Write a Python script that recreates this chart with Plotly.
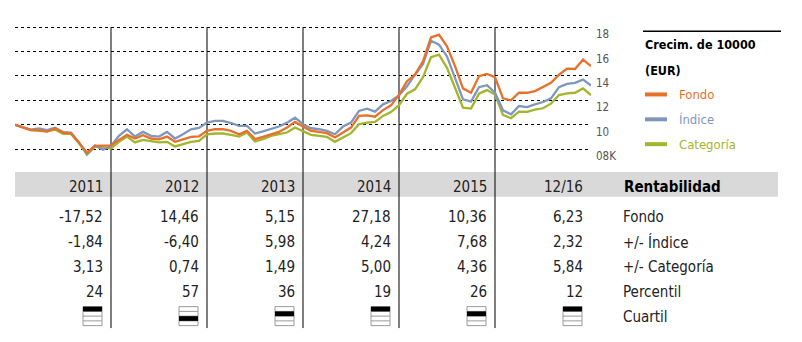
import plotly.graph_objects as go

# ---------------- data ----------------
months = list(range(73))  # month index, 0 = start of 2011, 72 = end of 2016

fondo = [10.0, 9.77, 9.55, 9.55, 9.44, 9.69, 9.36, 9.3, 8.55, 7.73, 8.27, 8.27, 8.3,
         8.76, 9.17, 8.87, 9.14, 8.87, 8.8, 9.03, 8.6, 8.8, 9.0, 9.05, 9.5,
         9.63, 9.63, 9.5, 9.22, 9.5, 8.82, 9.0, 9.22, 9.41, 9.77, 10.23, 9.85,
         9.5, 9.41, 9.31, 8.95, 9.36, 9.77, 10.72, 10.77, 10.66, 11.2, 11.59, 12.45,
         13.57, 14.1, 15.2, 17.15, 17.38, 16.43, 14.8, 12.98, 12.62, 13.98, 14.17, 13.9,
         12.16, 12.0, 12.62, 12.62, 12.76, 13.08, 13.43, 14.1, 14.6, 14.57, 15.33, 14.8]

indice = [10.0, 9.8, 9.6, 9.7, 9.55, 9.75, 9.4, 9.35, 8.55, 7.6, 8.3, 7.95, 8.25,
          9.09, 9.63, 9.03, 9.41, 9.09, 9.03, 9.41, 8.87, 9.22, 9.63, 9.74, 10.17,
          10.31, 10.31, 10.14, 9.9, 9.9, 9.28, 9.45, 9.63, 9.85, 10.17, 10.58, 10.04,
          9.71, 9.63, 9.5, 9.22, 9.85, 10.17, 11.13, 11.31, 11.07, 11.67, 11.94, 12.4,
          13.16, 14.1, 14.99, 16.88, 16.56, 15.6, 13.84, 12.08, 11.89, 13.08, 13.24, 12.62,
          11.18, 10.86, 11.53, 11.45, 11.67, 11.86, 12.16, 13.08, 13.35, 13.43, 13.7, 13.22]

categoria = [10.0, 9.75, 9.55, 9.5, 9.45, 9.6, 9.25, 9.25, 8.5, 7.55, 8.2, 8.15, 8.05,
             8.6, 9.03, 8.55, 8.76, 8.66, 8.55, 8.6, 8.22, 8.41, 8.6, 8.68, 9.22,
             9.28, 9.28, 9.17, 9.03, 9.36, 8.63, 8.82, 9.09, 9.22, 9.36, 9.77, 9.44,
             9.17, 9.09, 9.0, 8.6, 8.95, 9.31, 10.04, 10.17, 10.23, 10.72, 11.04, 11.6,
             12.54, 12.9, 13.9, 15.53, 15.74, 14.66, 13.03, 11.4, 11.32, 12.54, 12.84, 12.48,
             10.8, 10.53, 11.07, 11.05, 11.24, 11.35, 11.73, 12.43, 12.57, 12.62, 12.98, 12.43]

y_tickvals = [8, 10, 12, 14, 16, 18]
y_ticktext = ["08K", "10", "12", "14", "16", "18"]

years = ["2011", "2012", "2013", "2014", "2015", "12/16"]
year_end_month = [12, 24, 36, 48, 60, 72]
ret_fondo = [-17.52, 14.46, 5.15, 27.18, 10.36, 6.23]
ret_indice = [-1.84, -6.40, 5.98, 4.24, 7.68, 2.32]
ret_categoria = [3.13, 0.74, 1.49, 5.00, 4.36, 5.84]
percentil = [24, 57, 36, 19, 26, 12]
cuartil = [1, 3, 2, 1, 2, 1]

row_labels = ["Fondo", "+/- Índice", "+/- Categoría", "Percentil", "Cuartil"]
series_names = ["Fondo", "Índice", "Categoría"]

# ---------------- style ----------------
W, H = 802, 342
FONT = "Liberation Sans Narrow, Arial Narrow, DejaVu Sans Condensed, sans-serif"
COL = {"Fondo": "#E8702A", "Índice": "#7F97BC", "Categoría": "#A3B52B"}
TXT = "#222222"
TS = 15  # table font size
YS = -2  # vertical nudge of table text (px)


def px(x):
    return x / W


def py(y):
    return 1 - y / H


# plot geometry (pixels)
X0, X1 = 15, 591
Y18, Y8 = 27.3, 150.0
k = (Y8 - Y18) / 10.0
YMIN, YMAX = 7.0, 18.5
dom_bottom = Y8 + (8 - YMIN) * k
dom_top = Y18 - (YMAX - 18) * k

fig = go.Figure()
for name, vals in zip(series_names[::-1], [categoria, indice, fondo]):
    fig.add_trace(go.Scatter(x=months, y=vals, mode="lines", name=name,
                             line=dict(color=COL[name], width=2.3),
                             showlegend=False, hoverinfo="skip"))

shapes = []
annotations = []

# grey header band
shapes.append(dict(type="rect", xref="paper", yref="paper",
                   x0=px(15), x1=px(778), y0=py(198), y1=py(173),
                   fillcolor="#D9D9D9", line=dict(width=0), layer="below"))

# vertical year separators
for m in year_end_month[:-1]:
    shapes.append(dict(type="line", xref="x", yref="paper", x0=m, x1=m,
                       y0=py(330), y1=py(Y18), line=dict(color="black", width=1),
                       layer="below"))

# table rows
row_y = [216.7, 241.7, 266.7, 291.7]


def fmt(v):
    return f"{v:.2f}".replace(".", ",")


for i, yr in enumerate(years):
    m = year_end_month[i]
    annotations.append(dict(x=m, y=py(186), xref="x", yref="paper", text=yr,
                            xanchor="right", yanchor="middle", xshift=-6, yshift=YS,
                            showarrow=False, font=dict(size=TS, color=TXT, family=FONT)))
    vals = [fmt(ret_fondo[i]), fmt(ret_indice[i]), fmt(ret_categoria[i]), str(percentil[i])]
    for ry, t in zip(row_y, vals):
        annotations.append(dict(x=m, y=py(ry), xref="x", yref="paper", text=t,
                                xanchor="right", yanchor="middle", xshift=-6, yshift=YS,
                                showarrow=False, font=dict(size=TS, color=TXT, family=FONT)))
    # quartile icon
    ya = py(318)
    h = 19.0
    rh = h / 4
    q = cuartil[i]
    common = dict(xref="x", xsizemode="pixel", xanchor=m, yref="paper",
                  ysizemode="pixel", yanchor=ya)
    shapes.append(dict(type="rect", x0=-28, x1=-9, y0=-h / 2, y1=h / 2,
                       line=dict(color="#9A9A9A", width=1), fillcolor="white", **common))
    for j in range(1, 4):
        yy = h / 2 - j * rh
        shapes.append(dict(type="line", x0=-28, x1=-9, y0=yy, y1=yy,
                           line=dict(color="#9A9A9A", width=1), **common))
    shapes.append(dict(type="rect", x0=-28, x1=-9, y0=h / 2 - q * rh, y1=h / 2 - (q - 1) * rh,
                       line=dict(width=0), fillcolor="black", **common))

annotations.append(dict(x=px(622), y=py(186), xref="paper", yref="paper",
                        text="<b>Rentabilidad</b>", xanchor="left", yanchor="middle",
                        yshift=YS, showarrow=False,
                        font=dict(size=15, color="black", family=FONT)))
for lab, ry in zip(row_labels, row_y + [317.2]):
    annotations.append(dict(x=px(621), y=py(ry), xref="paper", yref="paper", text=lab,
                            xanchor="left", yanchor="middle", yshift=YS, showarrow=False,
                            font=dict(size=TS, color=TXT, family=FONT)))

# manual legend
shapes.append(dict(type="line", xref="paper", yref="paper", x0=px(643), x1=px(781),
                   y0=py(31.5), y1=py(31.5), line=dict(color="black", width=1.5)))
annotations.append(dict(x=px(643), y=py(45), xref="paper", yref="paper",
                        text="<b>Crecim. de 10000</b>", xanchor="left", yanchor="middle",
                        showarrow=False, font=dict(size=12.5, color="black", family=FONT)))
annotations.append(dict(x=px(643), y=py(70.7), xref="paper", yref="paper",
                        text="<b>(EUR)</b>", xanchor="left", yanchor="middle",
                        showarrow=False, font=dict(size=12.5, color="black", family=FONT)))
for name, ly in zip(series_names, [95, 120, 145]):
    shapes.append(dict(type="line", xref="paper", yref="paper", x0=px(645), x1=px(667),
                       y0=py(ly), y1=py(ly), line=dict(color=COL[name], width=4)))
    annotations.append(dict(x=px(677), y=py(ly), xref="paper", yref="paper", text=name,
                            xanchor="left", yanchor="middle", showarrow=False,
                            font=dict(size=13, color=COL[name], family=FONT)))

fig.update_layout(
    width=W, height=H,
    margin=dict(l=0, r=0, t=0, b=0),
    paper_bgcolor="white", plot_bgcolor="white",
    font=dict(family=FONT),
    showlegend=False,
    shapes=shapes,
    annotations=annotations,
    xaxis=dict(domain=[px(X0), px(X1)], range=[0, 72], showgrid=False,
               zeroline=False, showticklabels=False, ticks="", showline=False,
               fixedrange=True),
    yaxis=dict(domain=[py(dom_bottom), py(dom_top)], range=[YMIN, YMAX], side="right",
               tickvals=y_tickvals, ticktext=y_ticktext, showgrid=True,
               gridcolor="black", griddash="dot", gridwidth=1, zeroline=False,
               showline=False, ticks="", ticklabelshift=7, ticklabelstandoff=4,
               tickfont=dict(size=11.5, color="#555555", family=FONT), fixedrange=True),
)

fig.write_html("out.html")
